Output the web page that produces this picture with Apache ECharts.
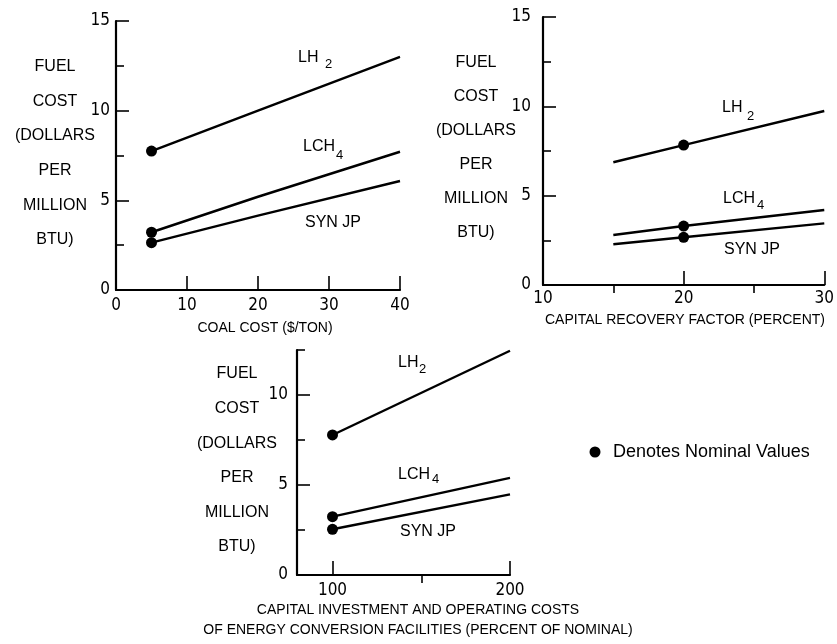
<!DOCTYPE html>
<html>
<head>
<meta charset="utf-8">
<script src="https://cdn.jsdelivr.net/npm/echarts@6/dist/echarts.min.js"></script>
<style>
  html, body { margin: 0; padding: 0; background: #fff; }
  #chart { width: 837px; height: 644px; }
</style>
</head>
<body>
<div id="chart"></div>
<script>
// ---------- DATA ----------
// Panel 1: coal cost ($/ton)
const coalCost   = [5, 20, 40];
const coalLH2    = [7.75, 10.0, 13.0];
const coalLCH4   = [3.22, 5.2, 7.71];
const coalSynJP  = [2.64, 4.15, 6.08];
const coalNominalIndex = 0;

// Panel 2: capital recovery factor (percent)
const recoveryFactor = [15, 20, 30];
const recLH2    = [6.87, 7.83, 9.74];
const recLCH4   = [2.8, 3.3, 4.2];
const recSynJP  = [2.28, 2.67, 3.45];
const recNominalIndex = 1;

// Panel 3: capital investment and operating costs (percent of nominal)
const investPct = [100, 200];
const invLH2    = [7.78, 12.46];
const invLCH4   = [3.24, 5.4];
const invSynJP  = [2.54, 4.48];
const invNominalIndex = 0;

// Tick values / labels
const coalXLabels  = [0, 10, 20, 30, 40];
const coalXTicks   = [10, 20, 30, 40];
const recXLabels   = [10, 20, 30];
const recXMajor    = [20, 30];
const recXMinor    = [15, 25];
const invXLabels   = [100, 200];
const invXMajor    = [100, 200];
const invXMinor    = [150];
const yLabels15    = [0, 5, 10, 15];
const yMajor15     = [5, 10, 15];
const yMinor15     = [2.5, 7.5, 12.5];
const yLabels12    = [0, 5, 10];
const yMajor12     = [5, 10];
const yMinor12     = [2.5, 7.5, 12.5];

const seriesNames = ['LH2', 'LCH4', 'SYN JP'];

// ---------- STYLE ----------
const INK = '#000';
const FONT = "'Liberation Sans', Arial, sans-serif";
const NARROW = "'Liberation Sans Narrow', 'DejaVu Sans Condensed', 'Liberation Sans', sans-serif";

const panels = [
  { grid: { left: 116, top: 21, width: 284, height: 269 },
    xMin: 0, xMax: 40, yMax: 15,
    xLabels: coalXLabels, xMajor: coalXTicks, xMinor: null,
    yLabels: yLabels15, yMajor: yMajor15, yMinor: yMinor15,
    yMargin: 6, xMargin: 7,
    x: coalCost, ys: [coalLH2, coalLCH4, coalSynJP], nom: coalNominalIndex },
  { grid: { left: 543, top: 17, width: 284, height: 268 },
    xMin: 10, xMax: 30, yMax: 15,
    xLabels: recXLabels, xMajor: recXMajor, xMinor: recXMinor,
    yLabels: yLabels15, yMajor: yMajor15, yMinor: yMinor15,
    yMargin: 12, xMargin: 5,
    x: recoveryFactor, ys: [recLH2, recLCH4, recSynJP], nom: recNominalIndex },
  { grid: { left: 297, top: 350, width: 213, height: 225 },
    xMin: 80, xMax: 200, yMax: 12.5,
    xLabels: invXLabels, xMajor: invXMajor, xMinor: invXMinor,
    yLabels: yLabels12, yMajor: yMajor12, yMinor: yMinor12,
    yMargin: 9, xMargin: 7,
    x: investPct, ys: [invLH2, invLCH4, invSynJP], nom: invNominalIndex }
];

const grids = [], xAxes = [], yAxes = [], series = [];
panels.forEach((p, gi) => {
  grids.push(p.grid);
  const mainX = xAxes.length;
  xAxes.push({
    type: 'value', gridIndex: gi, min: p.xMin, max: p.xMax,
    axisLine: { show: true, lineStyle: { color: INK, width: 2.2 } },
    axisTick: { show: true, inside: true, length: 14, customValues: p.xMajor, lineStyle: { color: INK, width: 1.6 } },
    axisLabel: { show: true, customValues: p.xLabels, margin: p.xMargin, color: INK, fontSize: 17, fontFamily: NARROW },
    splitLine: { show: false }
  });
  xAxes.push({
    type: 'value', gridIndex: gi, min: p.xMin, max: p.xMax, show: !!p.xMinor,
    axisLine: { show: false },
    axisTick: { show: !!p.xMinor, inside: true, length: 8, customValues: p.xMinor || [], lineStyle: { color: INK, width: 1.6 } },
    axisLabel: { show: false },
    splitLine: { show: false }
  });
  const mainY = yAxes.length;
  yAxes.push({
    type: 'value', gridIndex: gi, min: 0, max: p.yMax, position: 'left',
    axisLine: { show: true, lineStyle: { color: INK, width: 2.2 } },
    axisTick: { show: true, inside: true, length: 13, customValues: p.yMajor, lineStyle: { color: INK, width: 1.6 } },
    axisLabel: { show: true, customValues: p.yLabels, margin: p.yMargin, color: INK, fontSize: 17, fontFamily: NARROW },
    splitLine: { show: false }
  });
  yAxes.push({
    type: 'value', gridIndex: gi, min: 0, max: p.yMax, position: 'left',
    axisLine: { show: false },
    axisTick: { show: true, inside: true, length: 8, customValues: p.yMinor, lineStyle: { color: INK, width: 1.6 } },
    axisLabel: { show: false },
    splitLine: { show: false }
  });
  p.ys.forEach((ys, si) => {
    series.push({
      type: 'line', name: seriesNames[si], xAxisIndex: mainX, yAxisIndex: mainY,
      data: p.x.map((xv, i) => [xv, ys[i]]),
      symbol: 'none', silent: true,
      lineStyle: { color: INK, width: 2.4 }
    });
  });
  series.push({
    type: 'scatter', name: 'Denotes Nominal Values', xAxisIndex: mainX, yAxisIndex: mainY,
    data: p.ys.map(ys => [p.x[p.nom], ys[p.nom]]),
    symbol: 'circle', symbolSize: 11, silent: true, z: 5,
    itemStyle: { color: INK, opacity: 1, borderWidth: 0 }
  });
});

function txt(x, y, text, size, opts) {
  return Object.assign({
    type: 'text', x: x, y: y, silent: true,
    style: Object.assign({ text: text, fontSize: size, fontFamily: FONT, fill: INK, align: 'left', verticalAlign: 'middle' }, opts || {})
  });
}
const yTitle = 'FUEL\nCOST\n(DOLLARS\nPER\nMILLION\nBTU)';

const graphics = [
  // y titles
  txt(55, 49.4, yTitle, 16, { align: 'center', verticalAlign: 'top', lineHeight: 34.6 }),
  txt(476, 46, yTitle, 16, { align: 'center', verticalAlign: 'top', lineHeight: 34 }),
  txt(237, 356.7, yTitle, 16, { align: 'center', verticalAlign: 'top', lineHeight: 34.6 }),
  // x titles
  txt(265, 328, 'COAL COST ($/TON)', 14, { align: 'center' }),
  txt(685, 320, 'CAPITAL RECOVERY FACTOR (PERCENT)', 14, { align: 'center' }),
  txt(418, 600, 'CAPITAL INVESTMENT AND OPERATING COSTS\nOF ENERGY CONVERSION FACILITIES (PERCENT OF NOMINAL)', 14, { align: 'center', verticalAlign: 'top', lineHeight: 20 }),
  // series labels panel 1
  txt(298, 58, 'LH', 16), txt(325, 64, '2', 13),
  txt(303, 147, 'LCH', 16), txt(336, 155, '4', 13),
  txt(305, 223, 'SYN JP', 16),
  // panel 2
  txt(722, 108, 'LH', 16), txt(747, 116, '2', 13),
  txt(723, 199, 'LCH', 16), txt(757, 205, '4', 13),
  txt(724, 250, 'SYN JP', 16),
  // panel 3
  txt(398, 363, 'LH', 16), txt(419, 369, '2', 13),
  txt(398, 475, 'LCH', 16), txt(432, 479, '4', 13),
  txt(400, 532, 'SYN JP', 16),
  // legend
  { type: 'circle', shape: { cx: 595, cy: 452, r: 5.5 }, style: { fill: INK }, silent: true },
  txt(613, 452, 'Denotes Nominal Values', 18)
];

const chart = echarts.init(document.getElementById('chart'), null, { renderer: 'canvas' });
chart.setOption({
  backgroundColor: '#fff',
  animation: false,
  grid: grids,
  xAxis: xAxes,
  yAxis: yAxes,
  series: series,
  graphic: { elements: graphics }
});
</script>
</body>
</html>
